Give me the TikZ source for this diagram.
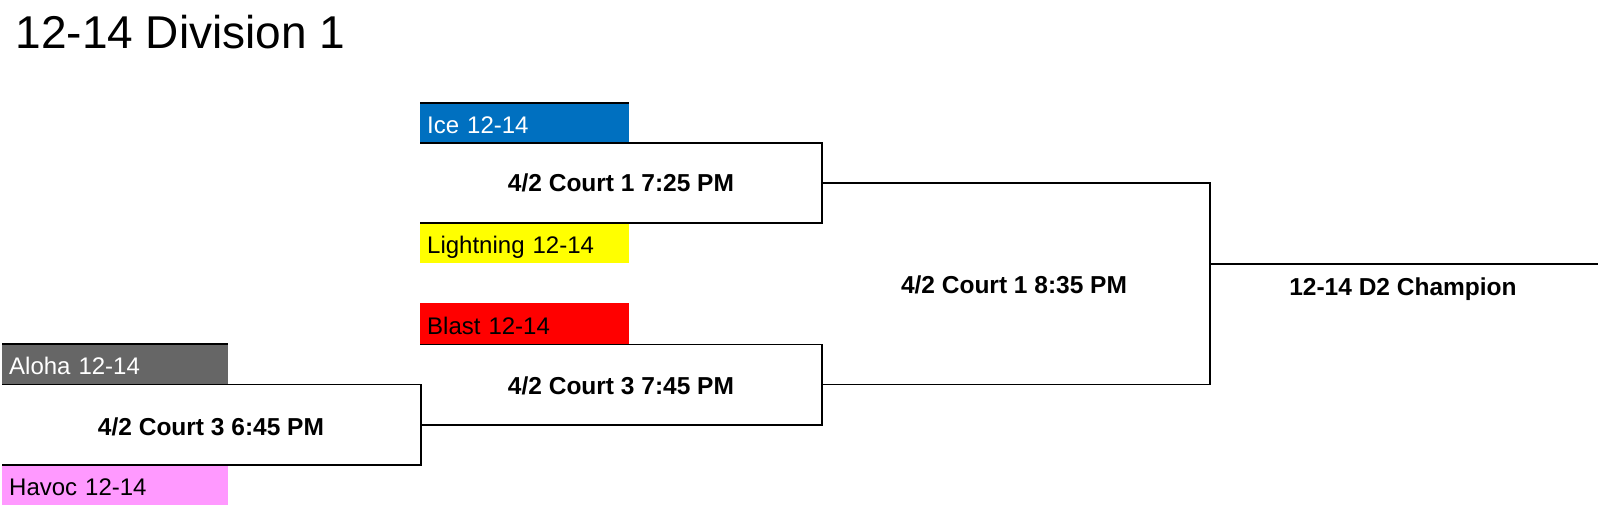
\documentclass[tikz,border=0pt]{standalone}
\usepackage{fontspec}
\setmainfont{Liberation Sans}
\definecolor{iceblue}{HTML}{0070C0}
\definecolor{alohagrey}{HTML}{666666}
\definecolor{havocpink}{HTML}{FF99FF}
\definecolor{lightyellow}{HTML}{FFFF00}
\definecolor{blastred}{HTML}{FF0000}
\tikzset{
  team/.style={anchor=north west, inner xsep=7pt, inner ysep=7.5pt, text height=23pt, text depth=2pt,
    text width=195pt, align=left, font=\fontsize{24}{28}\selectfont},
  wideteam/.style={team, text width=212pt},
  match/.style={anchor=base, font=\bfseries\fontsize{24.5}{28}\selectfont},
  wire/.style={line width=1.8pt, draw=black},
  titletext/.style={anchor=base west, font=\fontsize{46}{52}\selectfont}
}
\begin{document}
\begin{tikzpicture}[x=1pt,y=-1pt]
\useasboundingbox (0,0) rectangle (1600,505);
\node[titletext] (title) at (12,49) {12-14 Division 1};
% teams
\node[wideteam, fill=alohagrey, text=white] (aloha) at (2,344) {Aloha 12-14};
\node[wideteam, fill=havocpink] (havoc) at (2,465) {Havoc 12-14};
\node[team, fill=iceblue, text=white] (ice) at (420,103) {Ice 12-14};
\node[team, fill=lightyellow] (light) at (420,223) {Lightning 12-14};
\node[team, fill=blastred, minimum height=41pt] (blast) at (420,303) {Blast 12-14};
% bracket joints
\coordinate (r1m) at (421,425);
\coordinate (r2tm) at (822,183);
\coordinate (r2bm) at (822,384.5);
\coordinate (r3m) at (1210,264);
\coordinate (champ) at (1598,264);
% top rules
\draw[wire] (aloha.north west) -- (aloha.north east);
\draw[wire] (ice.north west) -- (ice.north east);
% brackets
\draw[wire] (aloha.south west) -| (r1m) |- (havoc.north west);
\draw[wire] (blast.south west) -| (r2bm) |- (r1m);
\draw[wire] (ice.south west) -| (r2tm) |- (light.north west);
\draw[wire] (r2tm) -| (r3m) |- (r2bm);
\draw[wire] (r3m) -- (champ);
% match labels
\node[match] (m1) at (211,435) {4/2 Court 3 6:45 PM};
\node[match] (m2) at (621,192) {4/2 Court 1 7:25 PM};
\node[match] (m3) at (621,394) {4/2 Court 3 7:45 PM};
\node[match] (m4) at (1014,293) {4/2 Court 1 8:35 PM};
\node[match] (m5) at (1403,295) {12-14 D2 Champion};
\end{tikzpicture}
\end{document}
